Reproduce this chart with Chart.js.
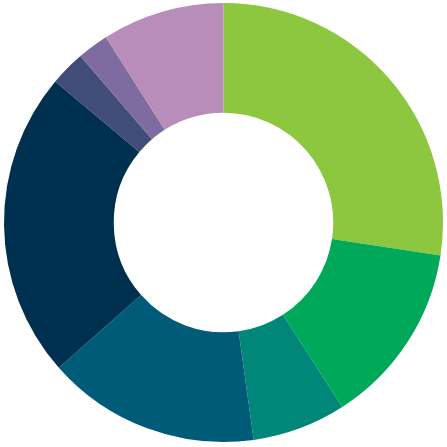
<!DOCTYPE html>
<html>
<head>
<meta charset="utf-8">
<script src="https://cdn.jsdelivr.net/npm/chart.js@4/dist/chart.umd.min.js"></script>
<style>
  html, body { margin: 0; padding: 0; background: #fff; }
  #wrap { width: 447px; height: 447px; }
</style>
</head>
<body>
<div id="wrap"><canvas id="chart"></canvas></div>
<script>
// segments, clockwise from 12 o'clock
const categories = ["A", "B", "C", "D", "E", "F", "G", "H"];
const shares = [27.4, 13.5, 6.9, 15.7, 22.6, 2.6, 2.3, 9.0];
const colors = ["#8DC63F", "#00A85A", "#00877A", "#005B78", "#00304F", "#424C78", "#7E6B9F", "#B98DB9"];

const chart = document.getElementById("chart").getContext("2d");

new Chart(chart, {
  type: "doughnut",
  data: {
    labels: categories,
    datasets: [
      {
        data: shares,
        backgroundColor: colors,
        borderWidth: 0,
      },
    ],
  },
  options: {
    responsive: true,
    maintainAspectRatio: false,
    animation: false,
    cutout: "50%",
    layout: { padding: { top: 3, bottom: 5, left: 4, right: 4 } },
    plugins: {
      legend: { display: false },
      tooltip: { enabled: false },
    },
  },
});
</script>
</body>
</html>
